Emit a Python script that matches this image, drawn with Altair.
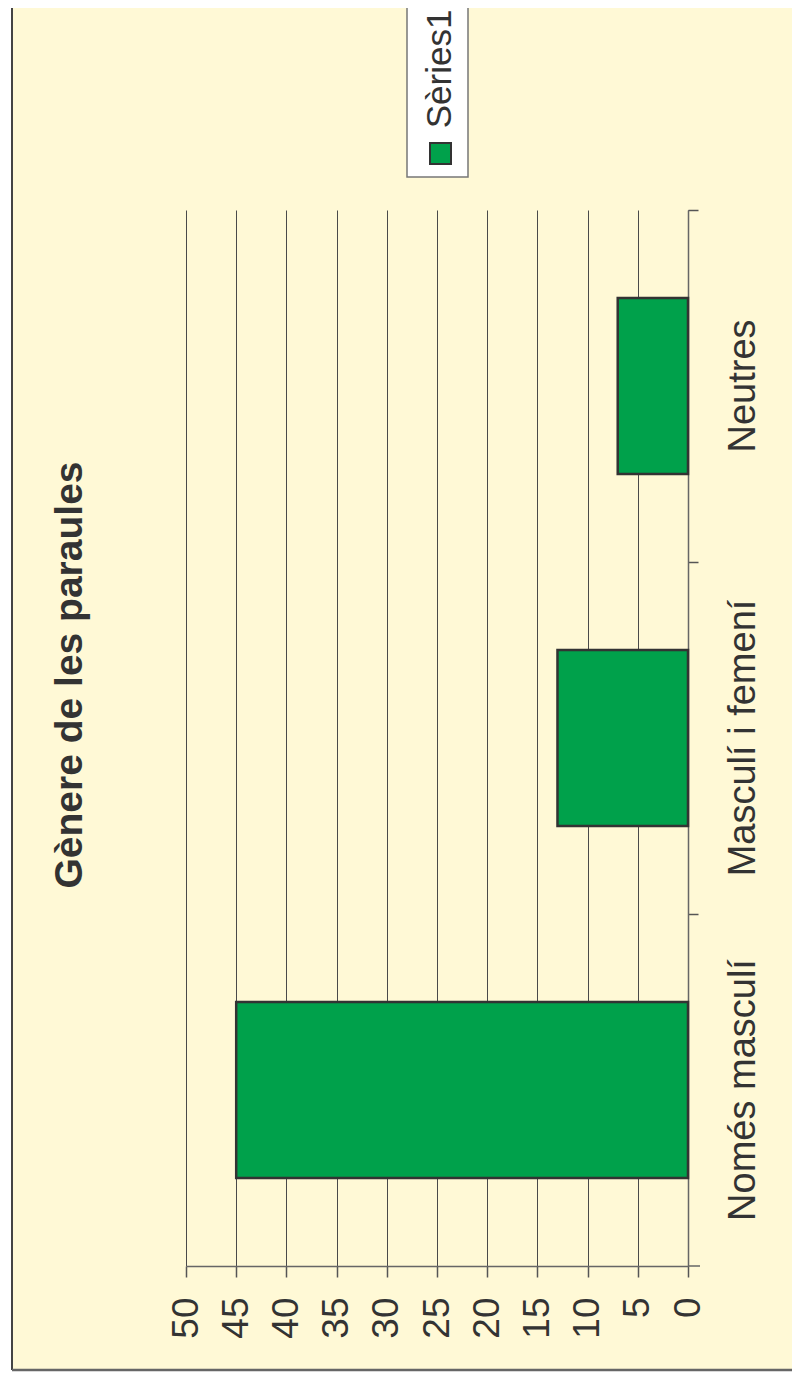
import altair as alt
import pandas as pd

# ---- data ----
categories = ["Només masculí", "Masculí i femení", "Neutres"]
values = [45, 13, 7]
series_name = "Sèries1"
chart_title = "Gènere de les paraules"
value_ticks = [0, 5, 10, 15, 20, 25, 30, 35, 40, 45, 50]

df = pd.DataFrame({"categoria": categories, "valor": values, "serie": [series_name] * 3})
one = pd.DataFrame({"k": [0]})

W, H = 502, 1056
BG = "#FFF9D6"
GREEN = "#00A14B"
TXT = "#333333"
FONT = "Liberation Sans"

bars = alt.Chart(df).mark_bar(
    height={"band": 0.5}, color=GREEN, stroke="#333333", strokeWidth=2.5
).encode(
    x=alt.X(
        "valor:Q",
        scale=alt.Scale(domain=[0, 50], reverse=True, nice=False, zero=True),
        axis=alt.Axis(
            values=value_ticks, orient="bottom", title=None,
            grid=True, gridColor="#4a4a4a", gridWidth=1,
            domainColor="#666666", domainWidth=1.5,
            tickColor="#555555", tickSize=11, tickWidth=1.5,
            labelAngle=270, labelAlign="right", labelBaseline="middle",
            labelPadding=20, labelFontSize=37, labelFont=FONT, labelColor=TXT,
            labelOverlap=False, labelFlush=False, labelLimit=0,
        ),
    ),
    y=alt.Y(
        "categoria:N",
        sort=list(reversed(categories)),
        scale=alt.Scale(paddingInner=0, paddingOuter=0),
        axis=alt.Axis(
            orient="right", title=None, grid=False, bandPosition=0,
            domainColor="#666666", domainWidth=1.5,
            tickColor="#555555", tickSize=10, tickWidth=1.5,
            labelAngle=270, labelAlign="center", labelBaseline="top",
            labelPadding=26, labelFontSize=38, labelFont=FONT, labelColor=TXT,
            labelOverlap=False, labelLimit=0,
        ),
    ),
)

# axis line extension at the corner (to the right of 0)
ext = alt.Chart(one).mark_rule(color="#666666", strokeWidth=1.5).encode(
    x=alt.value(W), x2=alt.value(W + 12), y=alt.value(H)
)

# outer frame: white strip on the left and bottom, dark border lines
white_left = alt.Chart(one).mark_rect(color="white").encode(
    x=alt.value(-180), x2=alt.value(-174), y=alt.value(-210), y2=alt.value(H + 120)
)
white_bottom = alt.Chart(one).mark_rect(color="white").encode(
    x=alt.value(-180), x2=alt.value(W + 120), y=alt.value(1160), y2=alt.value(H + 120)
)
left_border = alt.Chart(one).mark_rule(color="#444444", strokeWidth=2).encode(
    x=alt.value(-174), y=alt.value(-210), y2=alt.value(1160)
)
bottom_border = alt.Chart(one).mark_rule(color="#666666", strokeWidth=2.5).encode(
    x=alt.value(-174), x2=alt.value(W + 120), y=alt.value(1160)
)

# title (rotated)
title = alt.Chart(pd.DataFrame({"t": [chart_title]})).mark_text(
    angle=270, align="center", baseline="alphabetic",
    fontSize=39, fontWeight="bold", font=FONT, color=TXT
).encode(text="t:N", x=alt.value(-104), y=alt.value(465))

# legend (rotated)
leg_box = alt.Chart(one).mark_rect(fill="white", stroke="#777777", strokeWidth=1.5).encode(
    x=alt.value(221), x2=alt.value(282), y=alt.value(-215), y2=alt.value(-33)
)
leg_sq = alt.Chart(pd.DataFrame({"serie": [series_name]})).mark_rect(
    fill=GREEN, stroke="#333333", strokeWidth=2
).encode(x=alt.value(244), x2=alt.value(265), y=alt.value(-67), y2=alt.value(-46))
leg_txt = alt.Chart(pd.DataFrame({"serie": [series_name]})).mark_text(
    angle=270, align="center", baseline="alphabetic",
    fontSize=35, font=FONT, color=TXT
).encode(text="serie:N", x=alt.value(265), y=alt.value(-141))

chart = alt.layer(
    white_left, white_bottom, left_border, bottom_border,
    bars, ext, title, leg_box, leg_sq, leg_txt
).properties(
    width=W, height=H,
    autosize=alt.AutoSizeParams(type="none"),
    padding={"left": 178, "top": 202, "right": 104, "bottom": 108},
    background=BG,
).configure_view(stroke=None)

chart.save("out.html", embed_options={"renderer": "svg", "actions": False})
